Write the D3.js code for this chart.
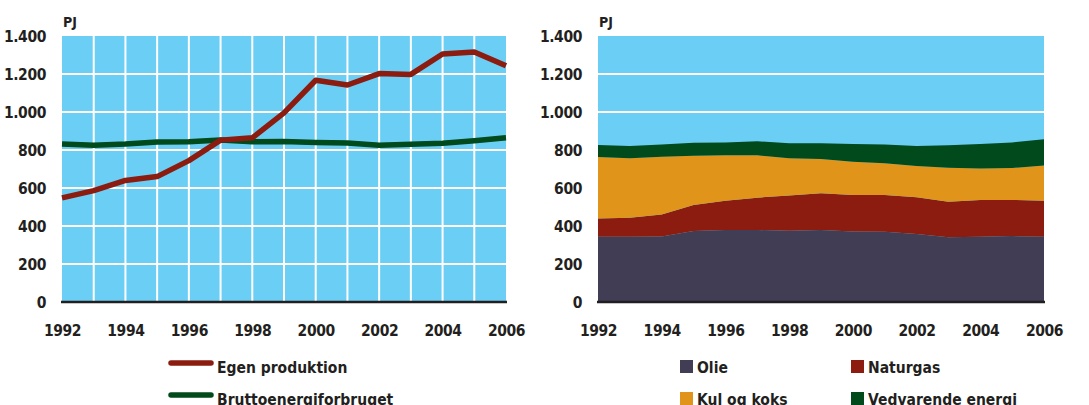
<!DOCTYPE html>
<html>
<head>
<meta charset="utf-8">
<script src="https://cdn.jsdelivr.net/npm/d3@7"></script>
<style>
  body { margin: 0; background: #fff; }
  svg text { font-family: "Liberation Sans Narrow", "DejaVu Sans Condensed", sans-serif; font-weight: bold; fill: #231f20; }
</style>
</head>
<body>
<div id="chart"></div>
<script>
// years on the x axis
var years = [1992, 1993, 1994, 1995, 1996, 1997, 1998, 1999, 2000, 2001, 2002, 2003, 2004, 2005, 2006];
var yearTicks = [1992, 1994, 1996, 1998, 2000, 2002, 2004, 2006];
var valueTicks = [0, 200, 400, 600, 800, 1000, 1200, 1400];

// left chart, PJ
var egenProduktion = [548, 586, 640, 660, 744, 852, 864, 995, 1167, 1142, 1202, 1198, 1305, 1316, 1243];
var bruttoForbrug = [832, 825, 831, 842, 844, 852, 843, 845, 840, 837, 825, 830, 836, 849, 864];

// right chart, PJ (stacked)
var olie = [344, 344, 345, 374, 379, 379, 375, 379, 371, 370, 358, 341, 344, 347, 344];
var naturgas = [96, 100, 116, 136, 154, 170, 186, 193, 192, 193, 193, 187, 193, 190, 189];
var kulKoks = [323, 312, 304, 260, 239, 223, 196, 180, 175, 167, 165, 179, 166, 168, 185];
var vedvarende = [63, 65, 64, 68, 68, 74, 78, 83, 94, 99, 105, 118, 129, 135, 138];

var lineNames = ["Egen produktion", "Bruttoenergiforbruget"];
var stackNames = ["Olie", "Naturgas", "Kul og koks", "Vedvarende energi"];

var bg = "#6bcef5";
var lineColors = ["#8b1c0f", "#004a1b"];
var stackColors = ["#403d55", "#8b1c0f", "#e0951a", "#004a1b"];

var W = 1089, H = 405;
var svg = d3.select("#chart").append("svg")
  .attr("width", W).attr("height", H);

var danish = d3.formatLocale({ decimal: ",", thousands: ".", grouping: [3], currency: ["", ""] });
var fmt = danish.format(",");

var plotTop = 36, plotBottom = 302;
var y = d3.scaleLinear().domain([0, 1400]).range([plotBottom, plotTop]);

function frame(x0, x1) {
  var x = d3.scaleLinear().domain([1992, 2006]).range([x0, x1]);
  var g = svg.append("g");
  g.append("rect")
    .attr("x", x0).attr("y", plotTop)
    .attr("width", x1 - x0).attr("height", plotBottom - plotTop)
    .attr("fill", bg);
  return { x: x, g: g };
}

function axes(p, x0, x1) {
  // y labels
  var ya = p.g.append("g")
    .attr("transform", "translate(" + (x0 - 16) + ",0)")
    .call(d3.axisLeft(y).tickValues(valueTicks).tickSize(0).tickFormat(fmt));
  ya.select(".domain").remove();
  ya.selectAll("text").attr("x", 0).attr("dy", "0.36em")
    .style("font-size", "15.5px").style("letter-spacing", "-0.4px");

  // x labels
  var xa = p.g.append("g")
    .attr("transform", "translate(0," + (plotBottom + 20) + ")")
    .call(d3.axisBottom(p.x).tickValues(yearTicks).tickSize(0).tickFormat(d3.format("d")));
  xa.select(".domain").remove();
  xa.selectAll("text").attr("y", 0).attr("dy", "0.9em")
    .style("font-size", "15.5px").style("letter-spacing", "-0.4px");

  // baseline
  p.g.append("line")
    .attr("x1", x0 - 1).attr("x2", x1 + 1)
    .attr("y1", plotBottom).attr("y2", plotBottom)
    .attr("stroke", "#231f20").attr("stroke-width", 2.5);

  p.g.append("text")
    .attr("x", x0 + 1).attr("y", 27)
    .style("font-size", "14px")
    .text("PJ");
}

// ---- left chart ----
var L = frame(62, 506);
L.g.selectAll(".hgrid").data(valueTicks.slice(1, -1)).enter().append("line")
  .attr("x1", 62).attr("x2", 506)
  .attr("y1", d => y(d)).attr("y2", d => y(d))
  .attr("stroke", "#fff").attr("stroke-width", 2);
L.g.selectAll(".vgrid").data(years.slice(1, -1)).enter().append("line")
  .attr("x1", d => L.x(d)).attr("x2", d => L.x(d))
  .attr("y1", plotTop).attr("y2", plotBottom)
  .attr("stroke", "#fff").attr("stroke-width", 2);

var line = d3.line().x((d, i) => L.x(years[i])).y(d => y(d));
[bruttoForbrug, egenProduktion].forEach(function (s, k) {
  L.g.append("path")
    .attr("d", line(s))
    .attr("fill", "none")
    .attr("stroke", lineColors[1 - k])
    .attr("stroke-width", 5.5)
    .attr("stroke-linejoin", "round");
});
axes(L, 62, 506);

// left legend
lineNames.forEach(function (name, i) {
  var ly = 363 + i * 32;
  svg.append("line")
    .attr("x1", 171).attr("x2", 211)
    .attr("y1", ly).attr("y2", ly)
    .attr("stroke", lineColors[i]).attr("stroke-width", 5.5)
    .attr("stroke-linecap", "round");
  svg.append("text")
    .attr("x", 217).attr("y", ly + 10)
    .style("font-size", "15.5px")
    .text(name);
});

// ---- right chart ----
var R = frame(598, 1044);
R.g.selectAll(".hgrid").data(valueTicks.slice(1, -1)).enter().append("line")
  .attr("x1", 598).attr("x2", 1044)
  .attr("y1", d => y(d)).attr("y2", d => y(d))
  .attr("stroke", "#fff").attr("stroke-width", 2);

var table = years.map(function (yr, i) {
  return { year: yr, Olie: olie[i], Naturgas: naturgas[i], "Kul og koks": kulKoks[i], "Vedvarende energi": vedvarende[i] };
});
var stacked = d3.stack().keys(stackNames)(table);
var area = d3.area()
  .x(d => R.x(d.data.year))
  .y0(d => y(d[0]))
  .y1(d => y(d[1]));
R.g.selectAll(".layer").data(stacked).enter().append("path")
  .attr("d", area)
  .attr("fill", (d, i) => stackColors[i]);
axes(R, 598, 1044);

// right legend
stackNames.forEach(function (name, i) {
  var col = i % 2, row = Math.floor(i / 2);
  var lx = col === 0 ? 680 : 851;
  var ly = 360 + row * 32;
  svg.append("rect")
    .attr("x", lx).attr("y", ly)
    .attr("width", 13).attr("height", 13)
    .attr("fill", stackColors[i]);
  svg.append("text")
    .attr("x", lx + 17).attr("y", ly + 13)
    .style("font-size", "15.5px")
    .text(name);
});
</script>
</body>
</html>
